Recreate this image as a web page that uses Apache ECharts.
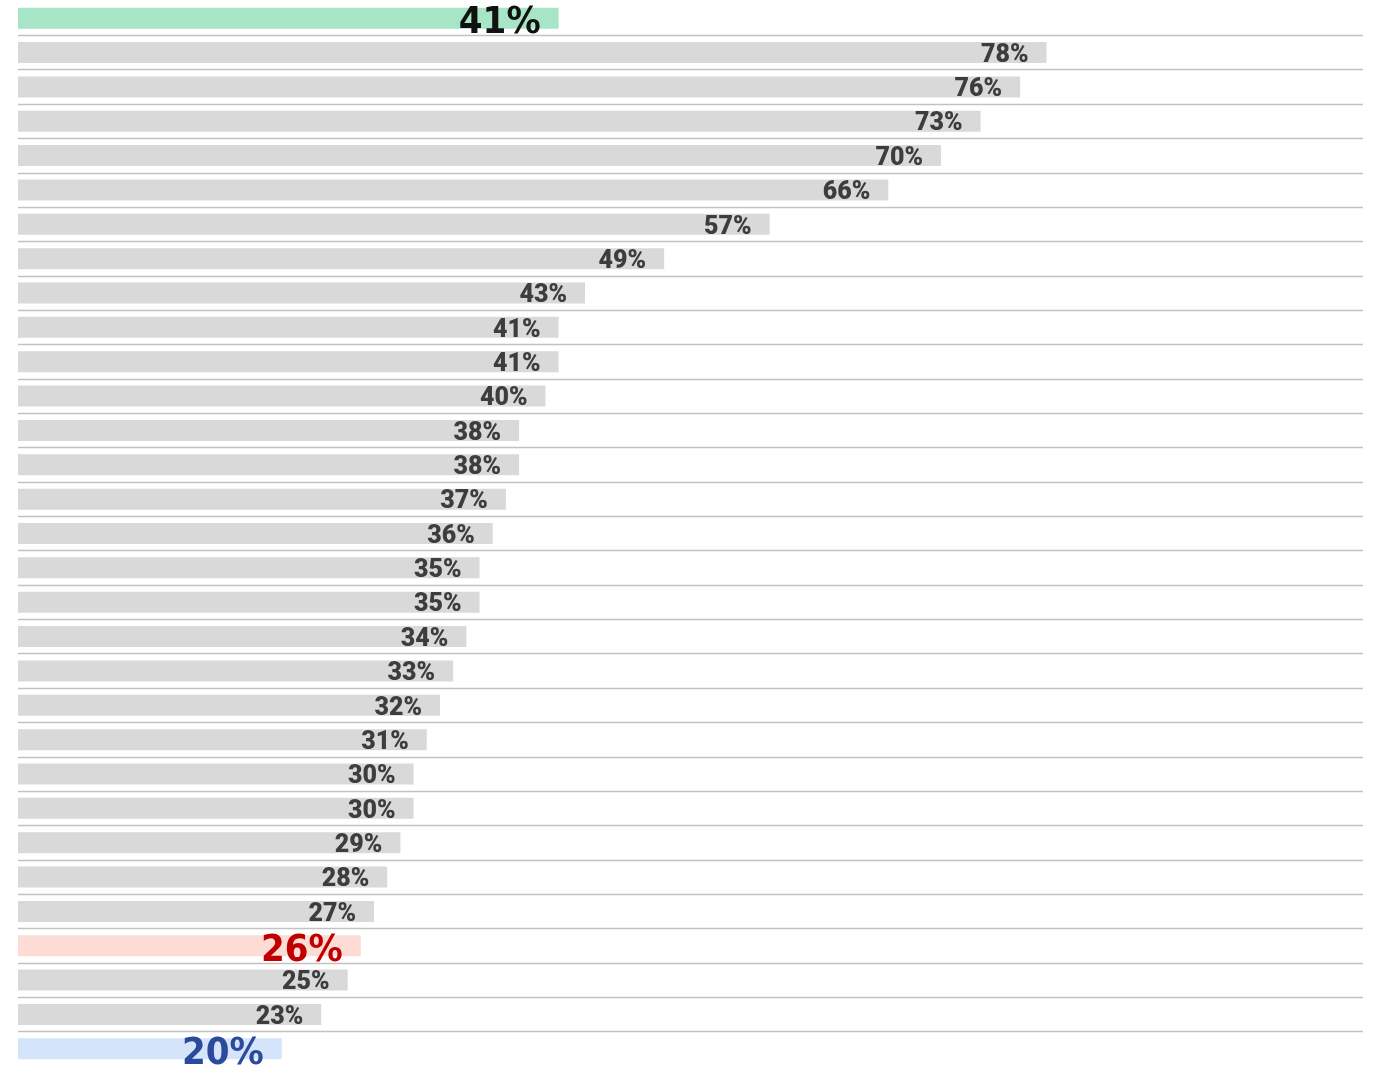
<!DOCTYPE html>
<html>
<head>
<meta charset="utf-8">
<script src="https://cdn.jsdelivr.net/npm/echarts@6/dist/echarts.min.js"></script>
<style>
  html, body { margin: 0; padding: 0; background: #fff; }
  #chart { width: 1374px; height: 1067px; }
</style>
</head>
<body>
<div id="chart"></div>
<script>
// Share values, one per row, top to bottom
const rowIds = [
  'r01','r02','r03','r04','r05','r06','r07','r08','r09','r10',
  'r11','r12','r13','r14','r15','r16','r17','r18','r19','r20',
  'r21','r22','r23','r24','r25','r26','r27','r28','r29','r30','r31'
];
const shares = [
  41, 78, 76, 73, 70, 66, 57, 49, 43, 41,
  41, 40, 38, 38, 37, 36, 35, 35, 34, 33,
  32, 31, 30, 30, 29, 28, 27, 26, 25, 23, 20
];
// Rows drawn with an accent colour (index -> style key)
const accentRows = { 0: 'green', 27: 'red', 30: 'blue' };

const palette = {
  base:  { bar: '#d9d9d9', text: '#3d3d3d', size: 25 },
  green: { bar: '#a6e6c7', text: '#111111', size: 38 },
  red:   { bar: '#fddcd5', text: '#c00000', size: 38 },
  blue:  { bar: '#d4e5fb', text: '#2c4a9c', size: 38 }
};

const seriesData = shares.map((v, i) => {
  const p = palette[accentRows[i] || 'base'];
  const big = !!accentRows[i];
  return {
    value: v,
    itemStyle: { color: p.bar },
    label: {
      color: p.text,
      fontSize: p.size,
      fontWeight: big ? 'bold' : 900,
      fontFamily: big ? '"DejaVu Sans Condensed", sans-serif' : 'Roboto, sans-serif',
      offset: big ? [0, 5] : [0, 3]
    }
  };
});

const chart = echarts.init(document.getElementById('chart'), null, { renderer: 'canvas' });
chart.setOption({
  animation: false,
  backgroundColor: '#ffffff',
  grid: { left: 18, right: 11, top: 1, bottom: 1, containLabel: false },
  xAxis: {
    type: 'value',
    min: 0,
    max: 102,
    show: false
  },
  yAxis: {
    type: 'category',
    data: rowIds,
    inverse: true,
    axisLine: { show: false },
    axisTick: { show: false },
    axisLabel: { show: false },
    splitLine: {
      show: true,
      showMinLine: false,
      showMaxLine: false,
      lineStyle: { color: '#c2c2c2', width: 1.3 }
    }
  },
  series: [{
    type: 'bar',
    data: seriesData,
    barWidth: 21,
    label: {
      show: true,
      position: 'insideRight',
      distance: 18,
      formatter: p => p.value + '%'
    }
  }]
});
</script>
</body>
</html>
